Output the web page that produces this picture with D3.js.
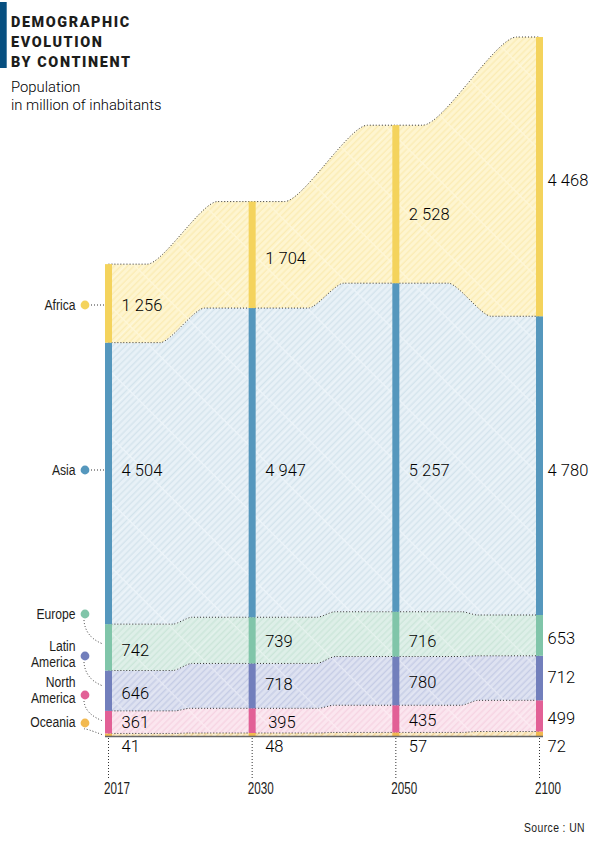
<!DOCTYPE html>
<html>
<head>
<meta charset="utf-8">
<script src="https://cdn.jsdelivr.net/npm/d3@7"></script>
<style>
    html, body { margin: 0; padding: 0; background: #fff; }
    svg { display: block; }
    .val { font-family: Roboto, sans-serif; font-weight: 300; font-size: 16.5px; fill: #000; letter-spacing: 0.05px; }
    .narrow { font-family: "Liberation Sans", sans-serif; fill: #1d1d1b; }
</style>
</head>
<body>
<div id="chart"></div>
<script>
var years = ["2017", "2030", "2050", "2100"];
var continents = ["Oceania", "North America", "Latin America", "Europe", "Asia", "Africa"];
var oceania = [41, 48, 57, 72];
var northAmerica = [361, 395, 435, 499];
var latinAmerica = [646, 718, 780, 712];
var europe = [742, 739, 716, 653];
var asia = [4504, 4947, 5257, 4780];
var africa = [1256, 1704, 2528, 4468];
var seriesValues = [oceania, northAmerica, latinAmerica, europe, asia, africa];
var barColors = ["#f2b950", "#e26096", "#727fbc", "#80c5a9", "#5597bd", "#f4d35c"];
var tintColors = ["#fbeccb", "#fbe6ef", "#dee2f1", "#deefe8", "#e8f1f7", "#fef5d0"];
var stripeColors = ["#f5d79a", "#f6d3e2", "#c4cbe5", "#cbe5d9", "#d3e3ec", "#fbebb2"];
var labelLines = [["Oceania"], ["North", "America"], ["Latin", "America"], ["Europe"], ["Asia"], ["Africa"]];

var width = 600, height = 841;
var barW = 7;
var baseY = 736;

var x = d3.scalePoint().domain(years).range([108.5, 539.5]);
var y = d3.scaleLinear().domain([0, 11184]).range([baseY, 37]);

var svg = d3.select("#chart").append("svg")
    .attr("width", width)
    .attr("height", height);

// hatch per continent, with the faint white lattice over it
var defs = svg.append("defs");
var pitch = 4.6, tile = pitch * 10;
continents.forEach(function (c, i) {
    var p = defs.append("pattern")
        .attr("id", "hatch" + i)
        .attr("patternUnits", "userSpaceOnUse")
        .attr("width", tile)
        .attr("height", tile)
        .attr("patternTransform", "rotate(45)");
    p.append("rect").attr("width", tile).attr("height", tile).attr("fill", tintColors[i]);
    d3.range(10).forEach(function (k) {
        p.append("rect").attr("x", k * pitch + 1.5).attr("width", 1.3).attr("height", tile).attr("fill", stripeColors[i]);
    });
    p.append("rect").attr("width", tile).attr("height", 1.5).attr("fill", tintColors[i]);
    p.append("rect").attr("width", 1.2).attr("height", tile).attr("fill", "#fff").attr("opacity", 0.25);
    p.append("rect").attr("width", tile).attr("height", 0.8).attr("fill", "#fff").attr("opacity", 0.25);
});

// cumulative stack, from the ground up
var stacked = d3.stack()
    .keys(d3.range(continents.length))
    .value(function (d, k) { return seriesValues[k][d]; })(d3.range(years.length));

// bezier between points, short handles so the slope stays nearly straight
function softStep(context) {
    var line = NaN, n = 0, px, py;
    return {
        areaStart: function () { line = 0; },
        areaEnd: function () { line = NaN; },
        lineStart: function () { n = 0; },
        lineEnd: function () {
            if (line === 1) context.closePath();
            line = 1 - line;
        },
        point: function (xx, yy) {
            xx = +xx; yy = +yy;
            if (n === 0) {
                line === 1 ? context.lineTo(xx, yy) : context.moveTo(xx, yy);
            } else {
                var h = (xx - px) * 0.22;
                context.bezierCurveTo(px + h, py, xx - h, yy, xx, yy);
            }
            n++; px = xx; py = yy;
        }
    };
}

// the slope is about 45 degrees, so its run follows the height it has to cover
function edgeX(v0, v1, gapCenter) {
    var run = Math.abs(y(v0) - y(v1)) * 0.93 + 12;
    return [gapCenter - run / 2, gapCenter + run / 2];
}

function flowPoints(s) {
    var pts = [];
    for (var j = 0; j < years.length; j++) {
        var cx = x(years[j]);
        pts.push({ xb: cx, xt: cx, y0: s[j][0], y1: s[j][1] });
        if (j < years.length - 1) {
            var c = (cx + x(years[j + 1])) / 2 + 2;
            var eb = edgeX(s[j][0], s[j + 1][0], c);
            var et = edgeX(s[j][1], s[j + 1][1], c);
            pts.push({ xb: eb[0], xt: et[0], y0: s[j][0], y1: s[j][1] });
            pts.push({ xb: eb[1], xt: et[1], y0: s[j + 1][0], y1: s[j + 1][1] });
        }
    }
    return pts;
}

var area = d3.area()
    .curve(softStep)
    .x0(function (d) { return d.xb; })
    .x1(function (d) { return d.xt; })
    .y0(function (d) { return y(d.y0); })
    .y1(function (d) { return y(d.y1); });

var topLine = d3.line()
    .curve(softStep)
    .x(function (d) { return d.xt; })
    .y(function (d) { return y(d.y1); });

stacked.forEach(function (s, i) {
    svg.append("path")
        .attr("d", area(flowPoints(s)))
        .attr("fill", "url(#hatch" + i + ")");
});
stacked.forEach(function (s, i) {
    svg.append("path")
        .attr("d", topLine(flowPoints(s)))
        .attr("fill", "none")
        .attr("stroke", "#333")
        .attr("stroke-width", 1)
        .attr("stroke-dasharray", "1 2");
});

// bars
stacked.forEach(function (s, i) {
    svg.selectAll(null)
        .data(s)
        .enter().append("rect")
        .attr("x", function (d, j) { return x(years[j]) - barW / 2; })
        .attr("y", function (d) { return y(d[1]); })
        .attr("width", barW)
        .attr("height", function (d) { return y(d[0]) - y(d[1]); })
        .attr("fill", barColors[i]);
});

// ground line
svg.append("line")
    .attr("x1", x(years[0]) - barW / 2)
    .attr("x2", x(years[3]) + barW / 2)
    .attr("y1", baseY + 0.5)
    .attr("y2", baseY + 0.5)
    .attr("stroke", "#666")
    .attr("stroke-width", 1.6);

// value labels do not sit centred in the bands, baselines by continent then year
var labelY = [
    [752, 752, 752, 752],
    [728, 728, 726, 724],
    [699, 690, 688, 683],
    [656, 647, 647, 644],
    [476, 476, 476, 476],
    [311, 264, 220, 186]
];
var labelNudge = [0, 3, 0, 0, 0, 0];
stacked.forEach(function (s, i) {
    svg.selectAll(null)
        .data(s)
        .enter().append("text")
        .attr("class", "val")
        .attr("x", function (d, j) {
            return x(years[j]) + (j === 3 ? 8 : 13) + (j === 1 ? labelNudge[i] : 0);
        })
        .attr("y", function (d, j) { return labelY[i][j]; })
        .text(function (d, j) { return d3.format(",")(seriesValues[i][j]).replace(",", " "); });
});

// condensed type, the installed fonts have no narrow cut
function narrowText(t, px, py, size, sx, anchor) {
    return svg.append("text")
        .attr("class", "narrow")
        .attr("transform", "translate(" + px + "," + py + ") scale(" + sx + ",1)")
        .attr("text-anchor", anchor)
        .attr("font-size", size)
        .text(t);
}

// year ticks
years.forEach(function (yr) {
    svg.append("line")
        .attr("x1", x(yr)).attr("x2", x(yr))
        .attr("y1", baseY + 2).attr("y2", 780)
        .attr("stroke", "#333").attr("stroke-dasharray", "1 2");
    narrowText(yr, x(yr) - 4.5, 794, 16, 0.73, "start");
});

// continent legend down the left side
var dotY = [723, 695, 656, 614, 470, 305];
var textY = [721, 689.5, 653.5, 613, 469, 304];
var leaderEnd = [735, 721, 686, 644];
continents.forEach(function (c, i) {
    svg.append("circle").attr("cx", 85).attr("cy", dotY[i]).attr("r", 4.4).attr("fill", barColors[i]);
    var lines = labelLines[i];
    lines.forEach(function (t, k) {
        narrowText(t, 75.5, textY[i] + 5.5 + (k - (lines.length - 1) / 2) * 15.5, 15, 0.81, "end");
    });
    var path = d3.path();
    if (i >= 4) {
        path.moveTo(91, dotY[i]);
        path.lineTo(104, dotY[i]);
    } else {
        path.moveTo(84, dotY[i] + 6);
        path.quadraticCurveTo(85, leaderEnd[i] - 7, 103, leaderEnd[i]);
    }
    svg.append("path")
        .attr("d", path.toString())
        .attr("fill", "none")
        .attr("stroke", "#333")
        .attr("stroke-dasharray", "1 2");
});

// header
svg.append("rect").attr("x", 0).attr("y", 2).attr("width", 6.7).attr("height", 66).attr("fill", "#074f80");
["DEMOGRAPHIC", "EVOLUTION", "BY CONTINENT"].forEach(function (t, k) {
    svg.append("text")
        .attr("x", 11)
        .attr("y", 27 + k * 19.8)
        .attr("font-family", "Roboto, sans-serif")
        .attr("font-weight", 900)
        .attr("font-size", 14.4)
        .attr("letter-spacing", 1.6)
        .attr("fill", "#1d1d1b")
        .text(t);
});
["Population", "in million of inhabitants"].forEach(function (t, k) {
    svg.append("text")
        .attr("x", 11)
        .attr("y", 92 + k * 18)
        .attr("font-family", "Roboto, sans-serif")
        .attr("font-weight", 300)
        .attr("font-size", 14.8)
        .attr("fill", "#000")
        .text(t);
});
narrowText("Source : UN", 585, 832, 13, 0.8, "end").attr("letter-spacing", 0.5);
</script>
</body>
</html>
